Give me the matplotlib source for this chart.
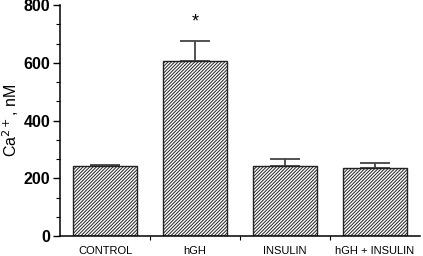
import matplotlib.pyplot as plt
from matplotlib.ticker import MultipleLocator, FixedLocator

plt.rcParams['font.family'] = ['Liberation Sans', 'DejaVu Sans']
plt.rcParams['hatch.linewidth'] = 0.7

groups = ['CONTROL', 'hGH', 'INSULIN', 'hGH + INSULIN']
ca_mean = [241, 607, 243, 234]
ca_err = [5, 69, 23, 20]
marks = ['', '*', '', '']

fig = plt.figure(figsize=(4.23, 2.56), dpi=100)
ax = fig.add_axes([0.142, 0.078, 0.851, 0.902])

x = list(range(len(groups)))
ax.bar(x, ca_mean, width=0.72, color='white', edgecolor='#222222',
       hatch='//////////', linewidth=1.0, zorder=2)
ax.errorbar(x, ca_mean, yerr=[[0] * len(x), ca_err], fmt='none',
            ecolor='#444444', elinewidth=1.3, capsize=11, capthick=1.3, zorder=1)
for xi, m, v, e in zip(x, marks, ca_mean, ca_err):
    if m:
        ax.text(xi, v + e + 35, m, ha='center', va='bottom', fontsize=13)

ax.set_xlim(-0.5, 3.5)
ax.set_ylim(0, 800)
ax.yaxis.set_major_locator(MultipleLocator(200))
ax.yaxis.set_minor_locator(MultipleLocator(200 / 3))
ax.set_xticks(x)
ax.set_xticklabels(groups, fontsize=8)
ax.xaxis.set_minor_locator(FixedLocator([0.5, 1.5, 2.5]))
ax.tick_params(axis='x', which='major', length=0, pad=7)
ax.tick_params(axis='x', which='minor', length=3, width=0.8)
ax.tick_params(axis='y', which='major', length=5, width=1, labelsize=11.5, pad=2)
ax.tick_params(axis='y', which='minor', length=3, width=0.8)
for lab in ax.get_yticklabels():
    lab.set_fontweight('bold')

for s in ['top', 'right']:
    ax.spines[s].set_visible(False)
ax.spines['left'].set_linewidth(1.1)
ax.spines['bottom'].set_linewidth(1.1)

ax.set_ylabel('Ca$^{2+}$, nM', fontsize=11.5, labelpad=2)

fig.savefig('out.png', dpi=100)
